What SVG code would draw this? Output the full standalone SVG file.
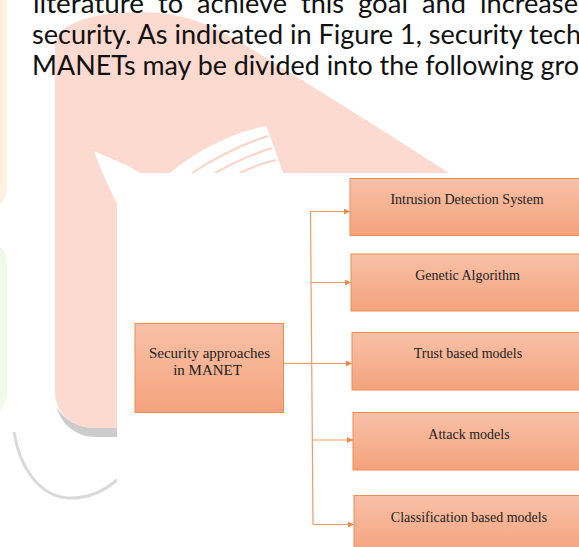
<svg xmlns="http://www.w3.org/2000/svg" width="579" height="547" viewBox="0 0 579 547">
<defs>
  <linearGradient id="boxFill" x1="0" y1="0" x2="0" y2="1">
    <stop offset="0" stop-color="#F8C1A8"/>
    <stop offset="1" stop-color="#F4A37D"/>
  </linearGradient>
  <marker id="arrow" viewBox="0 0 6 6" refX="6" refY="3" markerWidth="6" markerHeight="6" markerUnits="userSpaceOnUse" orient="auto">
    <path d="M0,0 L6,3 L0,6 Z" fill="#F08A4A"/>
  </marker>
  <style>
    .body { font-family: Lato, "Open Sans", sans-serif; font-size: 27px; fill: #111111; }
    .box { fill: url(#boxFill); stroke: #F08C4E; stroke-width: 1; }
    .lbl { font-family: "Liberation Serif", "Times New Roman", serif; font-size: 14px; fill: #222222; text-anchor: middle; }
    .lbl-lg { font-size: 15px; }
    .conn { stroke: #F39B62; stroke-width: 1.2; fill: none; }
    .wm { fill: #FDDAD0; }
    .stripe { stroke: #FBD2C6; stroke-width: 2; fill: none; }
  </style>
</defs>

<rect x="0" y="0" width="579" height="547" fill="#FFFFFF"/>

<g id="watermark">
  <path d="M0,0 H7 V185 Q7,200 0,204 Z" fill="#FEF1E2"/>
  <path d="M0,247 Q6,250 7,262 V395 Q5,405 0,412 Z" fill="#F1F9E8"/>
  <path d="M14,432 C19,465 38,496 68,498 C88,499 104,491 117,480" fill="none" stroke="#DADADA" stroke-width="3"/>
  <path class="wm" d="M55,45 C55,25 90,12 140,12 C185,12 212,26 240,42 C315,88 390,135 460,180 L117,180 L117,428 L95,428 C72,428 55,412 55,392 Z"/>
  <path d="M57,408 C62,425 75,436 95,437 L117,437 L117,428 L95,428 C78,428 65,420 57,408 Z" fill="#CCCCCC"/>
  <path d="M94,151 C110,158 128,165 142,174 L117,174 L117,204 C108,186 100,168 94,151 Z" fill="#FFFFFF"/>
  <path d="M170,173 C195,152 230,133 266,126 C272,140 278,158 283,173 Z" fill="#FFFFFF"/>
  <path class="stripe" d="M192,173 C215,158 240,145 268,136"/>
  <path class="stripe" d="M215,173 C235,162 252,154 272,148"/>
  <path class="stripe" d="M240,173 C252,167 262,163 276,160"/>
</g>

<g id="body-text">
  <text class="body" x="33" y="13" textLength="111" lengthAdjust="spacingAndGlyphs">literature</text>
  <text class="body" x="158" y="13" textLength="25" lengthAdjust="spacingAndGlyphs">to</text>
  <text class="body" x="197" y="13" textLength="90" lengthAdjust="spacingAndGlyphs">achieve</text>
  <text class="body" x="301" y="13" textLength="43" lengthAdjust="spacingAndGlyphs">this</text>
  <text class="body" x="358" y="13" textLength="50" lengthAdjust="spacingAndGlyphs">goal</text>
  <text class="body" x="422" y="13" textLength="44" lengthAdjust="spacingAndGlyphs">and</text>
  <text class="body" x="480" y="13" textLength="98" lengthAdjust="spacingAndGlyphs">increase</text>
  <text class="body" x="32" y="44" textLength="549" lengthAdjust="spacingAndGlyphs">security. As indicated in Figure 1, security tech</text>
  <text class="body" x="32" y="75" textLength="547" lengthAdjust="spacingAndGlyphs">MANETs may be divided into the following gro</text>
</g>

<rect x="117" y="173" width="462" height="374" fill="#FFFFFF"/>

<g id="connectors">
  <path class="conn" d="M283.5,363.5 H311.5"/>
  <path class="conn" d="M310.5,211.5 L313,524.5"/>
  <path class="conn" marker-end="url(#arrow)" d="M310.5,211.5 H350"/>
  <path class="conn" marker-end="url(#arrow)" d="M311,282.5 H351"/>
  <path class="conn" marker-end="url(#arrow)" d="M311.5,363.5 H352"/>
  <path class="conn" marker-end="url(#arrow)" d="M312,440 H353"/>
  <path class="conn" marker-end="url(#arrow)" d="M313,524.5 H354"/>
</g>

<g id="root">
  <rect class="box" x="135" y="323.5" width="148.5" height="89"/>
  <text class="lbl lbl-lg" x="209.5" y="357.5">Security approaches</text>
  <text class="lbl lbl-lg" x="207.5" y="375">in MANET</text>
</g>
<g id="ids">
  <rect class="box" x="350" y="178.5" width="240" height="57"/>
  <text class="lbl" x="467" y="204">Intrusion Detection System</text>
</g>
<g id="ga">
  <rect class="box" x="351" y="254" width="240" height="57"/>
  <text class="lbl" x="467.5" y="280">Genetic Algorithm</text>
</g>
<g id="trust">
  <rect class="box" x="352" y="332.5" width="240" height="57.5"/>
  <text class="lbl" x="468" y="358">Trust based models</text>
</g>
<g id="attack">
  <rect class="box" x="353" y="412.5" width="240" height="57.5"/>
  <text class="lbl" x="469" y="439">Attack models</text>
</g>
<g id="classification">
  <rect class="box" x="354" y="495.5" width="240" height="57.5"/>
  <text class="lbl" x="469" y="521.5">Classification based models</text>
</g>
</svg>
